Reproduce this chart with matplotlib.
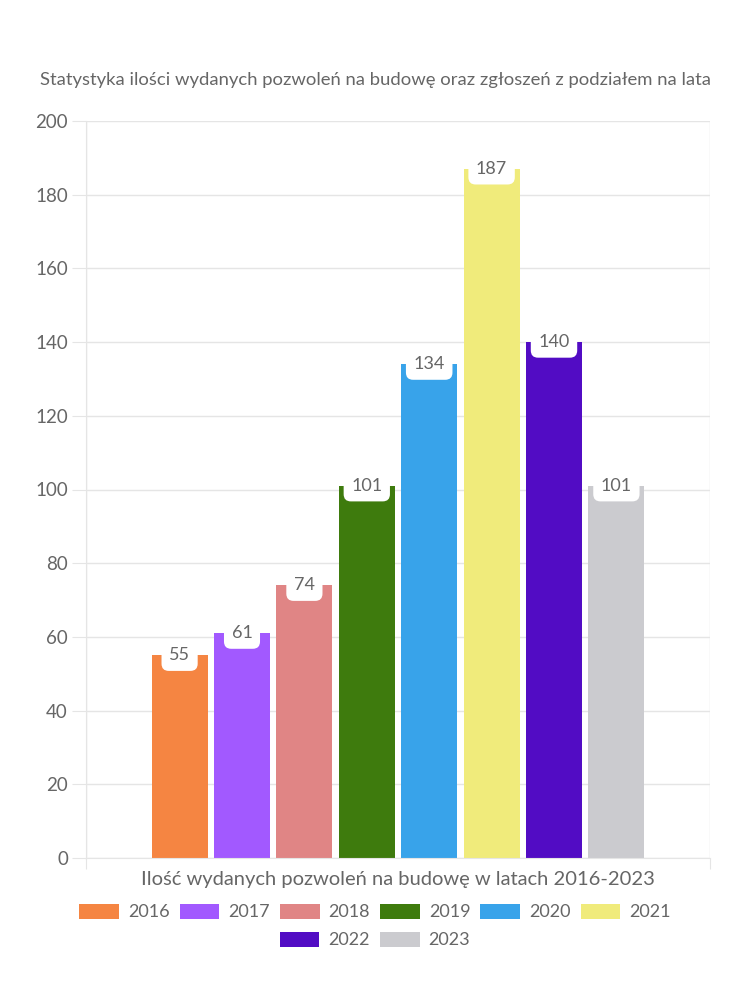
import matplotlib.pyplot as plt
from matplotlib.patches import Patch

years = ['2016', '2017', '2018', '2019', '2020', '2021', '2022', '2023']
permits = [55, 61, 74, 101, 134, 187, 140, 101]
colors = ['#f58542', '#a259ff', '#e08585', '#3e7b0d', '#38a3ea',
          '#f0eb7b', '#520cc4', '#cbcbcf']

title = 'Statystyka ilości wydanych pozwoleń na budowę oraz zgłoszeń z podziałem na lata'
xlabel = 'Ilość wydanych pozwoleń na budowę w latach 2016-2023'

plt.rcParams['font.family'] = ['Lato', 'DejaVu Sans']
txt = '#666666'
grid = '#e5e5e5'

fig = plt.figure(figsize=(7.5, 10), dpi=100)
ax = fig.add_axes([86 / 750, 142 / 1000, 624 / 750, 737 / 1000])

n = len(years)
slot = 0.8 / n
for i, (y, v, c) in enumerate(zip(years, permits, colors)):
    x = -0.4 + slot * (i + 0.5)
    ax.bar(x, v, width=slot * 0.9, color=c, zorder=2)
    ax.annotate(str(v), (x, v), ha='center', va='center', fontsize=13,
                color=txt, zorder=4,
                bbox=dict(boxstyle='round,pad=0.42,rounding_size=0.4',
                          fc='white', ec='none'))

ax.set_xlim(-0.5, 0.5)
ax.set_ylim(0, 200)
ax.set_yticks(range(0, 201, 20))
ax.set_xticks([-0.5, 0.5])
ax.set_xticklabels(['', ''])
ax.grid(True, color=grid, lw=1, zorder=0)
ax.tick_params(axis='y', length=10, color=grid, labelcolor=txt, labelsize=13.5, pad=3)
ax.tick_params(axis='x', length=8, color=grid)
for s in ax.spines.values():
    s.set_color(grid)
ax.spines['top'].set_visible(False)
ax.spines['right'].set_visible(False)

fig.text(0.5, 0.92, title, ha='center', va='center', fontsize=13.3, color=txt)
fig.text(398 / 750, 0.12, xlabel, ha='center', va='center', fontsize=14.5, color=txt)

handles = [Patch(facecolor=c, edgecolor='none') for c in colors]
leg_kw = dict(loc='center', frameon=False, fontsize=13, labelcolor=txt,
              handlelength=2.2, handleheight=0.9, columnspacing=0.55,
              handletextpad=0.5)
fig.legend(handles[:6], years[:6], bbox_to_anchor=(0.5, 0.088), ncol=6, **leg_kw)
fig.legend(handles[6:], years[6:], bbox_to_anchor=(0.5, 0.06), ncol=2, **leg_kw)

fig.savefig('out.png', dpi=100, facecolor='white')
